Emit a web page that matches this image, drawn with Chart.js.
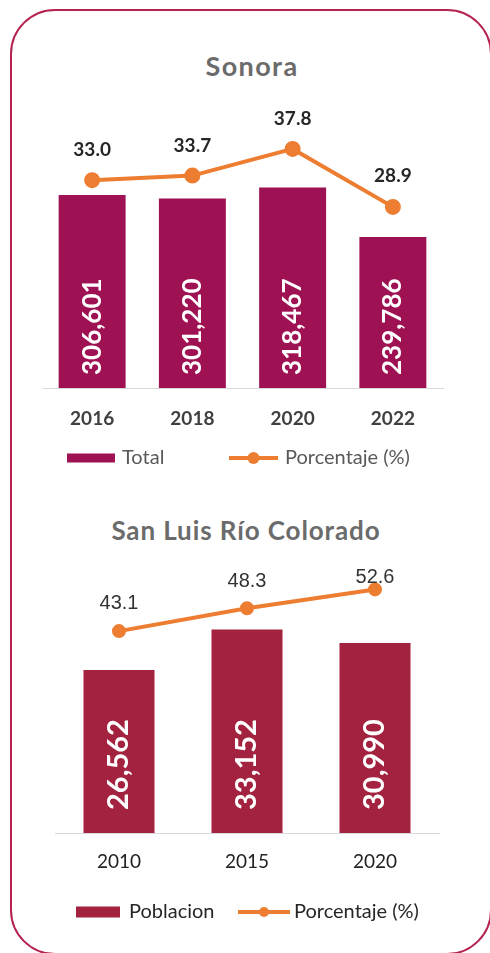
<!DOCTYPE html>
<html>
<head>
<meta charset="utf-8">
<script src="https://cdn.jsdelivr.net/npm/chart.js@4.4.0/dist/chart.umd.min.js"></script>
<style>
  html, body { margin: 0; padding: 0; background: #fff; }
  body { width: 490px; height: 953px; position: relative; overflow: hidden; font-family: Lato, sans-serif; }
  .frame { position: absolute; left: 10px; top: 9px; width: 478px; height: 942px; border: 2px solid #b5234f; border-radius: 45px; }
  .title { position: absolute; transform: translateX(-50%); white-space: nowrap; font-weight: 700; color: #6b6b6b; line-height: 32px; }
  canvas { position: absolute; left: 0; }
</style>
</head>
<body>
<div class="frame"></div>
<div class="title" style="left:252px; top:50px; font-size:27px; letter-spacing:1.4px;">Sonora</div>
<div class="title" style="left:246px; top:514px; font-size:26px; letter-spacing:0.9px;">San Luis Río Colorado</div>
<canvas id="sonora" width="490" height="490" style="top:0"></canvas>
<canvas id="slrc" width="490" height="463" style="top:490px"></canvas>
<script>
// Sonora
const sonoraYears = ['2016', '2018', '2020', '2022'];
const sonoraTotal = [306601, 301220, 318467, 239786];
const sonoraPct = [33.0, 33.7, 37.8, 28.9];

// San Luis Río Colorado
const slrcYears = ['2010', '2015', '2020'];
const slrcPoblacion = [26562, 33152, 30990];
const slrcPct = [43.1, 48.3, 52.6];

const ORANGE = '#ed7d31';

// white rotated numbers inside the bars, values above the line points
const valueLabels = {
  id: 'valueLabels',
  afterDatasetsDraw(chart, args, opts) {
    const ctx = chart.ctx;
    chart.data.datasets.forEach((ds, i) => {
      const meta = chart.getDatasetMeta(i);
      meta.data.forEach((el, j) => {
        const v = ds.data[j];
        ctx.save();
        if (ds.type === 'bar') {
          ctx.font = opts.barFont;
          ctx.fillStyle = '#fff';
          ctx.translate(el.x, el.base - opts.barGap);
          ctx.rotate(-Math.PI / 2);
          ctx.textAlign = 'left';
          ctx.textBaseline = 'middle';
          ctx.fillText(v.toLocaleString('en-US'), 0, 0);
        } else {
          ctx.font = opts.lineFont;
          ctx.fillStyle = opts.lineColor;
          ctx.textAlign = 'center';
          ctx.textBaseline = 'middle';
          ctx.fillText(v.toFixed(1), el.x, el.y - opts.lineOffsets[j]);
        }
        ctx.restore();
      });
    });
  }
};

// excel-like legend: wide box for bars, line with a dot for the line series
const sheetLegend = {
  id: 'sheetLegend',
  afterDraw(chart, args, opts) {
    const ctx = chart.ctx;
    ctx.save();
    ctx.font = opts.font;
    ctx.textBaseline = 'middle';
    ctx.textAlign = 'left';
    chart.data.datasets.forEach((ds, i) => {
      const x = opts.x[i], w = opts.w[i], y = opts.y;
      if (ds.type === 'line') {
        ctx.strokeStyle = ds.borderColor;
        ctx.lineWidth = ds.borderWidth;
        ctx.beginPath();
        ctx.moveTo(x, y);
        ctx.lineTo(x + w, y);
        ctx.stroke();
        ctx.fillStyle = ds.pointBackgroundColor;
        ctx.beginPath();
        ctx.arc(x + w / 2, y, ds.pointRadius, 0, Math.PI * 2);
        ctx.fill();
      } else {
        ctx.fillStyle = ds.backgroundColor;
        ctx.fillRect(x, y - opts.boxH / 2, w, opts.boxH);
      }
      ctx.fillStyle = opts.color;
      ctx.fillText(ds.label, x + w + opts.gap[i], y);
    });
    ctx.restore();
  }
};

new Chart(document.getElementById('sonora'), {
  data: {
    labels: sonoraYears,
    datasets: [
      {
        type: 'bar',
        label: 'Total',
        data: sonoraTotal,
        backgroundColor: '#9e1152',
        yAxisID: 'y',
        barPercentage: 0.668,
        categoryPercentage: 1,
        order: 1
      },
      {
        type: 'line',
        label: 'Porcentaje (%)',
        data: sonoraPct,
        borderColor: ORANGE,
        backgroundColor: ORANGE,
        pointBackgroundColor: ORANGE,
        pointBorderColor: ORANGE,
        borderWidth: 4,
        pointRadius: 6,
        yAxisID: 'y1',
        order: 0
      }
    ]
  },
  options: {
    responsive: false,
    animation: false,
    devicePixelRatio: 1,
    layout: { padding: { left: 42, right: 47, top: 130, bottom: 41.2 } },
    plugins: {
      legend: { display: false },
      tooltip: { enabled: false },
      valueLabels: {
        barFont: 'bold 26px Lato',
        barGap: 13,
        lineFont: 'bold 19px Lato',
        lineColor: '#262626',
        lineOffsets: [30, 30, 30, 31]
      },
      sheetLegend: {
        font: '20px Lato',
        color: '#595959',
        x: [67, 229],
        w: [48, 49],
        gap: [7, 7],
        y: 458,
        boxH: 9
      }
    },
    scales: {
      x: {
        grid: { display: false, drawTicks: false },
        border: { display: true, color: '#d9d9d9', width: 1 },
        ticks: { font: { family: 'Lato', size: 19, weight: 'bold' }, color: '#404040', padding: 19 }
      },
      y: { display: false, min: 0, max: 410000 },
      y1: { display: false, min: 1.1, max: 40.7 }
    }
  },
  plugins: [valueLabels, sheetLegend]
});

new Chart(document.getElementById('slrc'), {
  data: {
    labels: slrcYears,
    datasets: [
      {
        type: 'bar',
        label: 'Poblacion',
        data: slrcPoblacion,
        backgroundColor: '#a3223f',
        yAxisID: 'y',
        barPercentage: 0.555,
        categoryPercentage: 1,
        order: 1
      },
      {
        type: 'line',
        label: 'Porcentaje (%)',
        data: slrcPct,
        borderColor: ORANGE,
        backgroundColor: ORANGE,
        pointBackgroundColor: ORANGE,
        pointBorderColor: ORANGE,
        borderWidth: 4,
        pointRadius: 5,
        yAxisID: 'y1',
        order: 0
      }
    ]
  },
  options: {
    responsive: false,
    animation: false,
    devicePixelRatio: 1,
    layout: { padding: { left: 55, right: 51, top: 70, bottom: 63.2 } },
    plugins: {
      legend: { display: false },
      tooltip: { enabled: false },
      valueLabels: {
        barFont: 'bold 29px Lato',
        barGap: 23,
        lineFont: '20px "Liberation Sans"',
        lineColor: '#333333',
        lineOffsets: [28, 27, 12]
      },
      sheetLegend: {
        font: '20px Lato',
        color: '#262626',
        x: [76, 238],
        w: [44, 52],
        gap: [9, 4],
        y: 422,
        boxH: 11
      }
    },
    scales: {
      x: {
        grid: { display: false, drawTicks: false },
        border: { display: true, color: '#d9d9d9', width: 1 },
        ticks: { font: { family: 'Lato', size: 19 }, color: '#222222', padding: 17 }
      },
      y: { display: false, min: 0, max: 44500 },
      y1: { display: false, min: -2.9, max: 59.3 }
    }
  },
  plugins: [valueLabels, sheetLegend]
});
</script>
</body>
</html>
